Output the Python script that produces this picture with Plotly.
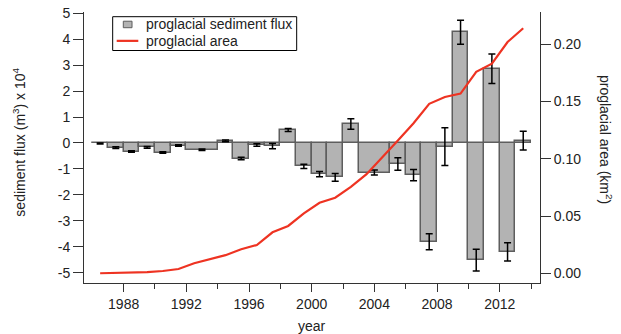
import plotly.graph_objects as go

# Survey intervals (start year, end year) for sediment flux bars
bar_start = [1986, 1987, 1988, 1989, 1990, 1991, 1992, 1994, 1995, 1996, 1997, 1998, 1999,
             2000, 2001, 2002, 2003, 2005, 2006, 2007, 2008, 2009, 2010, 2011, 2012, 2013]
bar_end = [1987, 1988, 1989, 1990, 1991, 1992, 1994, 1995, 1996, 1997, 1998, 1999, 2000,
           2001, 2002, 2003, 2005, 2006, 2007, 2008, 2009, 2010, 2011, 2012, 2013, 2014]
# sediment flux (x 10^4 m^3)
flux = [-0.02, -0.18, -0.33, -0.17, -0.37, -0.10, -0.26, 0.08, -0.60, -0.08, -0.12, 0.50, -0.90,
        -1.20, -1.33, 0.73, -1.14, -0.81, -1.24, -3.81, -0.14, 4.27, -4.52, 2.86, -4.20, 0.09]
flux_err = [0.02, 0.03, 0.03, 0.03, 0.03, 0.03, 0.03, 0.03, 0.05, 0.05, 0.10, 0.06, 0.08,
            0.10, 0.15, 0.20, 0.10, 0.24, 0.22, 0.31, 0.73, 0.46, 0.42, 0.57, 0.35, 0.36]

# proglacial area (km^2)
area_year = [1986.5, 1987.5, 1988.5, 1989.5, 1990.5, 1991.5, 1992.5, 1993.5, 1994.5, 1995.5,
             1996.5, 1997.5, 1998.5, 1999.5, 2000.5, 2001.5, 2002.5, 2003.5, 2004.5, 2005.5,
             2006.5, 2007.5, 2008.5, 2009.5, 2010.5, 2011.5, 2012.5, 2013.5]
area = [0.000, 0.0003, 0.0005, 0.001, 0.002, 0.0037, 0.0087, 0.0125, 0.0158, 0.021,
        0.0247, 0.0358, 0.0413, 0.0523, 0.0616, 0.066, 0.0755, 0.0865, 0.101, 0.116,
        0.131, 0.148, 0.154, 0.157, 0.176, 0.183, 0.202, 0.214]

x_ticks = [1988, 1992, 1996, 2000, 2004, 2008, 2012]
x_minor = [1990, 1994, 1998, 2002, 2006, 2010, 2014]
y_ticks = [-5, -4, -3, -2, -1, 0, 1, 2, 3, 4, 5]
y_ticktext = ["-5", "-4", "-3", "-2", "-1", "0", "1", "2", "3", "4", "5"]
y2_ticks = [0.0, 0.05, 0.10, 0.15, 0.20]
y2_ticktext = ["0.00", "0.05", "0.10", "0.15", "0.20"]

series_names = ["proglacial sediment flux", "proglacial area"]

centers = [(a + b) / 2 for a, b in zip(bar_start, bar_end)]
widths = [b - a for a, b in zip(bar_start, bar_end)]

FONT = "Liberation Sans, Arial, Helvetica, sans-serif"
AX = "#333333"
BAR_FILL = "#b3b3b3"
BAR_EDGE = "#5e5e5e"
LINE_COLOR = "#ee3322"

fig = go.Figure()
fig.add_trace(go.Bar(
    x=centers, y=flux, width=widths, name=series_names[0], showlegend=False,
    marker=dict(color=BAR_FILL, line=dict(color=BAR_EDGE, width=1.5)),
    error_y=dict(type="data", array=flux_err, visible=True, color="black",
                 thickness=1.5, width=3.5),
    yaxis="y",
))
fig.add_trace(go.Scatter(
    x=area_year, y=area, mode="lines", name=series_names[1], showlegend=False,
    line=dict(color=LINE_COLOR, width=2.2), yaxis="y2",
))

# Compact legend (box, swatches, labels) in paper coordinates
legend_shapes = [
    dict(type="rect", xref="paper", yref="paper", x0=0.0629, x1=0.4664, y0=0.8579, y1=0.9827,
         line=dict(color="black", width=1), fillcolor="white", layer="above"),
    dict(type="rect", xref="paper", yref="paper", x0=0.0862, x1=0.1053, y0=0.9420, y1=0.9660,
         line=dict(color=BAR_EDGE, width=1), fillcolor=BAR_FILL, layer="above"),
    dict(type="line", xref="paper", yref="paper", x0=0.0717, x1=0.1191, y0=0.8935, y1=0.8935,
         line=dict(color=LINE_COLOR, width=2.2), layer="above"),
]
legend_texts = [
    dict(text=series_names[0], xref="paper", yref="paper", x=0.1338, y=0.9539,
         xanchor="left", yanchor="middle", showarrow=False, font=dict(size=14), borderpad=0),
    dict(text=series_names[1], xref="paper", yref="paper", x=0.1338, y=0.8948,
         xanchor="left", yanchor="middle", showarrow=False, font=dict(size=14), borderpad=0),
]

fig.update_layout(
    width=621, height=334,
    margin=dict(l=84, r=81, t=12, b=51, autoexpand=False),
    paper_bgcolor="white", plot_bgcolor="white",
    font=dict(family=FONT, size=14, color="#222222"),
    bargap=0,
    showlegend=False,
    xaxis=dict(range=[1985.47, 2014.57], tickmode="array", tickvals=x_ticks,
               ticks="outside", ticklen=8, tickwidth=1, tickcolor=AX,
               showline=True, linecolor=AX, linewidth=1,
               showgrid=False, zeroline=False, automargin=False,
               minor=dict(tickmode="array", tickvals=x_minor, ticks="outside",
                          ticklen=5, tickcolor=AX, showgrid=False)),
    yaxis=dict(range=[-5.40, 5.05], tickmode="array", tickvals=y_ticks, ticktext=y_ticktext,
               ticks="outside", ticklen=10, tickwidth=1, tickcolor=AX,
               showline=True, linecolor=AX, linewidth=1,
               showgrid=False, zeroline=False, automargin=False),
    yaxis2=dict(range=[-0.0085, 0.2282], overlaying="y", side="right",
                tickmode="array", tickvals=y2_ticks, ticktext=y2_ticktext,
                ticks="outside", ticklen=10, tickwidth=1, tickcolor=AX,
                showline=True, linecolor=AX, linewidth=1,
                showgrid=False, zeroline=False, automargin=False),
    shapes=legend_shapes,
    annotations=[
        dict(text="sediment flux (m<sup>3</sup>) x 10<sup>4</sup>", xref="paper", yref="paper",
             x=-0.1425, y=0.518, xanchor="center", yanchor="middle", textangle=-90,
             showarrow=False, font=dict(size=14)),
        dict(text="proglacial area (km<sup>2</sup>)", xref="paper", yref="paper",
             x=1.1447, y=0.528, xanchor="center", yanchor="middle", textangle=90,
             showarrow=False, font=dict(size=14)),
        dict(text="year", xref="paper", yref="paper",
             x=0.499, y=-0.159, xanchor="center", yanchor="middle",
             showarrow=False, font=dict(size=14)),
    ] + legend_texts,
)

fig.write_html("out.html", config={"displayModeBar": False},
               post_script="document.body.style.margin='0px';")
